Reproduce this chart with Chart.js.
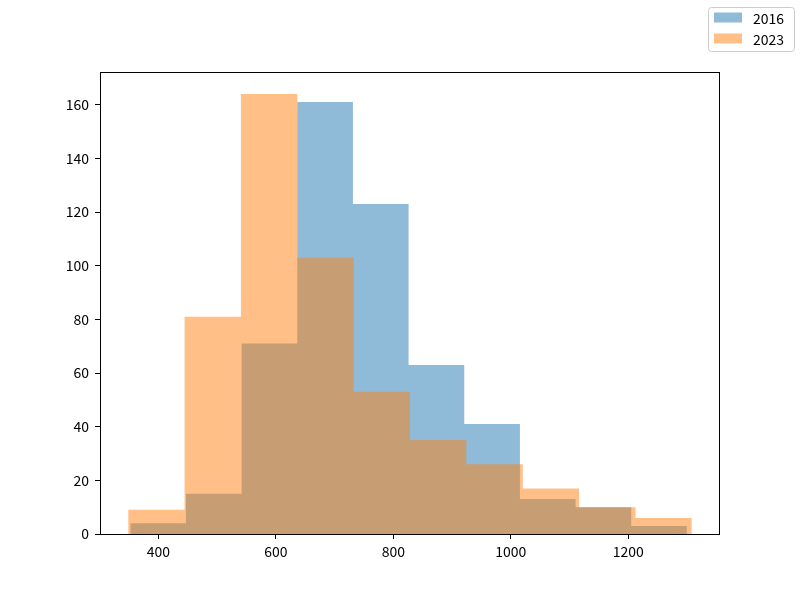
<!DOCTYPE html>
<html>
<head>
<meta charset="utf-8">
<script src="https://cdn.jsdelivr.net/npm/chart.js@4/dist/chart.umd.min.js"></script>
<style>
html,body{margin:0;padding:0;background:#fff;}
#wrap{position:relative;width:800px;height:600px;}
</style>
</head>
<body>
<div id="wrap"><canvas id="c" width="800" height="600"></canvas></div>
<script>
// Series labels
const seriesLabels = ["2016", "2023"];
// Bin edges
const edges2016 = [352, 446.8, 541.6, 636.4, 731.2, 826, 920.8, 1015.6, 1110.4, 1205.2, 1300];
const edges2023 = [348.4, 444.4, 540.4, 636.4, 732.4, 828.4, 924.4, 1020.4, 1116.4, 1212.4, 1308.4];
// Bin counts
const counts2016 = [4, 15, 71, 161, 123, 63, 41, 13, 10, 3];
const counts2023 = [9, 81, 164, 103, 53, 35, 26, 17, 10, 6];
// Tick labels
const xTicks = [400, 600, 800, 1000, 1200];
const yTicks = [0, 20, 40, 60, 80, 100, 120, 140, 160];

const FONT = "'Noto Sans CJK JP', 'DejaVu Sans', sans-serif";
const colors = ["rgba(31,119,180,0.5)", "rgba(255,127,14,0.5)"];

function stepPoints(edges, counts) {
  const pts = counts.map((c, i) => ({x: edges[i], y: c}));
  pts.push({x: edges[edges.length - 1], y: counts[counts.length - 1]});
  return pts;
}

const xMin = 300.4, xMax = 1356.4, yMax = 172.2;

const framePlugin = {
  id: 'frame',
  afterDatasetsDraw(chart) {
    const {ctx, chartArea: a} = chart;
    ctx.save();
    ctx.strokeStyle = '#000';
    ctx.lineWidth = 1;
    ctx.strokeRect(Math.round(a.left) + 0.5, Math.round(a.top) + 0.5, Math.round(a.right - a.left) - 1, Math.round(a.bottom - a.top));
    ctx.restore();
  },
  afterDraw(chart) {
    const ctx = chart.ctx;
    ctx.save();
    const bx = 708.5, by = 7.5, bw = 86, bh = 44, r = 3;
    ctx.fillStyle = 'rgba(255,255,255,0.8)';
    ctx.strokeStyle = '#cccccc';
    ctx.lineWidth = 1;
    ctx.beginPath();
    ctx.moveTo(bx + r, by);
    ctx.lineTo(bx + bw - r, by);
    ctx.quadraticCurveTo(bx + bw, by, bx + bw, by + r);
    ctx.lineTo(bx + bw, by + bh - r);
    ctx.quadraticCurveTo(bx + bw, by + bh, bx + bw - r, by + bh);
    ctx.lineTo(bx + r, by + bh);
    ctx.quadraticCurveTo(bx, by + bh, bx, by + bh - r);
    ctx.lineTo(bx, by + r);
    ctx.quadraticCurveTo(bx, by, bx + r, by);
    ctx.closePath();
    ctx.fill();
    ctx.stroke();
    const rows = [17.5, 38.5];
    ctx.font = "14px " + FONT;
    ctx.textBaseline = 'middle';
    ctx.textAlign = 'left';
    seriesLabels.forEach((lab, i) => {
      ctx.fillStyle = colors[i];
      ctx.fillRect(714, rows[i] - 5, 28, 10);
      ctx.fillStyle = '#000';
      ctx.fillText(lab, 753, rows[i] + 1);
    });
    ctx.restore();
  }
};

new Chart(document.getElementById('c'), {
  type: 'line',
  data: {
    datasets: [
      {
        label: seriesLabels[0],
        data: stepPoints(edges2016, counts2016),
        stepped: 'before',
        fill: 'origin',
        backgroundColor: colors[0],
        borderColor: 'rgba(0,0,0,0)',
        borderWidth: 0,
        pointRadius: 0,
        order: 2
      },
      {
        label: seriesLabels[1],
        data: stepPoints(edges2023, counts2023),
        stepped: 'before',
        fill: 'origin',
        backgroundColor: colors[1],
        borderColor: 'rgba(0,0,0,0)',
        borderWidth: 0,
        pointRadius: 0,
        order: 1
      }
    ]
  },
  options: {
    responsive: false,
    animation: false,
    devicePixelRatio: 1,
    layout: {padding: {left: 0, right: 80, top: 72, bottom: 0}},
    plugins: {legend: {display: false}, tooltip: {enabled: false}},
    elements: {line: {tension: 0}},
    scales: {
      x: {
        type: 'linear',
        min: xMin, max: xMax,
        afterBuildTicks(s) { s.ticks = xTicks.map(v => ({value: v})); },
        afterFit(s) { s.height = 66; },
        grid: {drawOnChartArea: false, drawTicks: true, tickLength: 5, color: '#000', tickWidth: 1},
        border: {display: false},
        ticks: {color: '#000', font: {family: FONT, size: 14}, padding: 4, maxRotation: 0, autoSkip: false,
          callback: v => String(v)}
      },
      y: {
        type: 'linear',
        min: 0, max: yMax,
        afterBuildTicks(s) { s.ticks = yTicks.map(v => ({value: v})); },
        afterFit(s) { s.width = 100; },
        grid: {drawOnChartArea: false, drawTicks: true, tickLength: 5, color: '#000', tickWidth: 1},
        border: {display: false},
        ticks: {color: '#000', font: {family: FONT, size: 14}, padding: 6, autoSkip: false,
          callback: v => String(v)}
      }
    }
  },
  plugins: [framePlugin]
});
</script>
</body>
</html>
